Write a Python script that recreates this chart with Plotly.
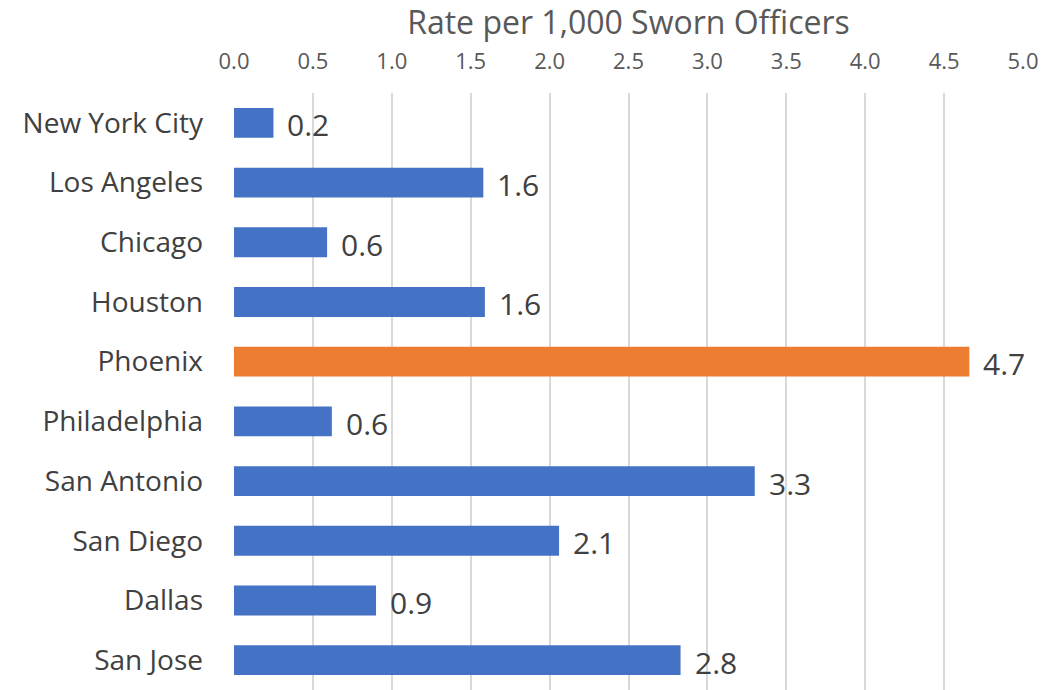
import plotly.graph_objects as go

cities = ["New York City", "Los Angeles", "Chicago", "Houston", "Phoenix",
          "Philadelphia", "San Antonio", "San Diego", "Dallas", "San Jose"]
rates = [0.25, 1.58, 0.59, 1.59, 4.66, 0.62, 3.30, 2.06, 0.90, 2.83]
highlight = "Phoenix"
tick_vals = [0.0, 0.5, 1.0, 1.5, 2.0, 2.5, 3.0, 3.5, 4.0, 4.5, 5.0]

BLUE = "#4472C4"
ORANGE = "#ED7D31"
FONT = "Open Sans"

colors = [ORANGE if c == highlight else BLUE for c in cities]

fig = go.Figure(go.Bar(
    x=rates,
    y=cities,
    orientation="h",
    marker=dict(color=colors, line=dict(width=0)),
    showlegend=False,
    hoverinfo="skip",
))

# value labels to the right of each bar
for c, v in zip(cities, rates):
    fig.add_annotation(
        x=v, y=c, text=f"{v:.1f}", showarrow=False,
        xanchor="left", xshift=12, yshift=-2,
        font=dict(family=FONT, size=30, color="#404040"),
    )

fig.update_layout(
    width=1057, height=690,
    margin=dict(l=234, r=34, t=93, b=0),
    paper_bgcolor="white", plot_bgcolor="white",
    bargap=0.5,
    font=dict(family=FONT, color="#404040"),
    xaxis=dict(
        side="top",
        range=[0, 5.0],
        tickvals=tick_vals,
        ticktext=[f"{t:.1f}" for t in tick_vals],
        tickfont=dict(size=22, color="#595959"),
        showgrid=True, gridcolor="#D9D9D9", gridwidth=1.5,
        zeroline=False, showline=False, ticks="",
        ticklabelstandoff=19,
        title=dict(text="Rate per 1,000 Sworn Officers",
                   font=dict(size=32, color="#595959"), standoff=8),
    ),
    yaxis=dict(
        categoryorder="array", categoryarray=cities,
        autorange="reversed",
        tickfont=dict(size=28, color="#404040"),
        showgrid=False, zeroline=False, showline=False, ticks="",
        ticklabelstandoff=30,
    ),
)

fig.write_html("out.html")
